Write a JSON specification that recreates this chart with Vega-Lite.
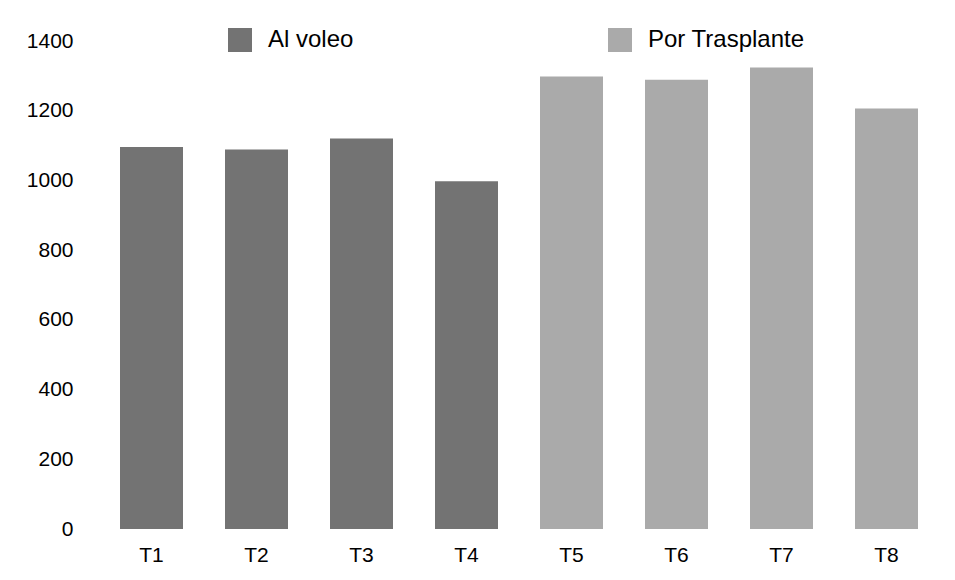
{
  "$schema": "https://vega.github.io/schema/vega-lite/v6.json",
  "autosize": {"type": "none"},
  "padding": {"left": 99, "top": 41, "right": 16, "bottom": 51},
  "width": 840,
  "height": 488,
  "background": "white",
  "data": {
    "values": [
      {"t": "T1", "value": 1096, "method": "Al voleo"},
      {"t": "T2", "value": 1089, "method": "Al voleo"},
      {"t": "T3", "value": 1120, "method": "Al voleo"},
      {"t": "T4", "value": 998, "method": "Al voleo"},
      {"t": "T5", "value": 1298, "method": "Por Trasplante"},
      {"t": "T6", "value": 1289, "method": "Por Trasplante"},
      {"t": "T7", "value": 1324, "method": "Por Trasplante"},
      {"t": "T8", "value": 1206, "method": "Por Trasplante"}
    ]
  },
  "mark": {"type": "bar"},
  "encoding": {
    "x": {
      "field": "t", "type": "nominal", "title": null, "sort": null,
      "scale": {"paddingInner": 0.4, "paddingOuter": 0.2},
      "axis": {"labelAngle": 0, "labelFont": "Liberation Sans", "labelFontSize": 21, "labelColor": "#000000", "ticks": false, "domain": false, "labelPadding": 15}
    },
    "y": {
      "field": "value", "type": "quantitative", "title": null,
      "scale": {"domain": [0, 1400], "nice": false},
      "axis": {"values": [0, 200, 400, 600, 800, 1000, 1200, 1400], "format": "d", "grid": false, "ticks": false, "domain": false, "labelFont": "Liberation Sans", "labelFontSize": 21, "labelColor": "#000000", "labelPadding": 26}
    },
    "color": {
      "field": "method", "type": "nominal", "title": null,
      "scale": {"domain": ["Al voleo", "Por Trasplante"], "range": ["#737373", "#aaaaaa"]},
      "legend": {
        "orient": "none", "legendX": 129, "legendY": -13, "direction": "horizontal",
        "symbolType": "square", "symbolSize": 576, "symbolStrokeWidth": 0,
        "labelFont": "Liberation Sans", "labelFontSize": 24, "labelColor": "#000000",
        "labelOffset": 16, "columnPadding": 254
      }
    }
  },
  "config": {"view": {"stroke": null}}
}
